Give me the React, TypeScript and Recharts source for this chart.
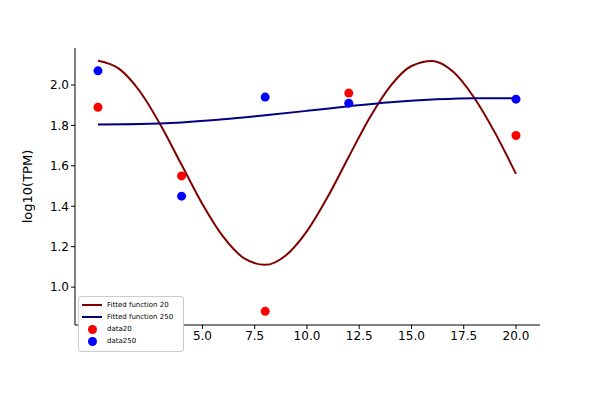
import React from "react";
import { ComposedChart, Line, Scatter, XAxis, YAxis } from "recharts";

const fitX20 = [0,1,2,3,4,5,6,7,8,9,10,11,12,13,14,15,16,17,18,19,20];
const fitY20 = [2.12,2.081,1.969,1.801,1.605,1.41,1.248,1.142,1.11,1.158,1.277,1.448,1.645,1.838,1.996,2.094,2.119,2.065,1.937,1.763,1.56];
const fitX250 = [0,2,4,6,8,10,12,14,16,18,20];
const fitY250 = [1.805,1.807,1.815,1.83,1.85,1.872,1.895,1.915,1.928,1.935,1.935];
const dataX = [0,4,8,12,20];
const data20 = [1.89,1.55,0.88,1.96,1.75];
const data250 = [2.07,1.45,1.94,1.91,1.93];
const xTicks = [0,2.5,5,7.5,10,12.5,15,17.5,20];
const yTicks = [1.0,1.2,1.4,1.6,1.8,2.0];

const f20 = fitX20.map((x, i) => ({ x, y: fitY20[i] }));
const f250 = fitX250.map((x, i) => ({ x, y: fitY250[i] }));
const d20 = dataX.map((x, i) => ({ x, y: data20[i] }));
const d250 = dataX.map((x, i) => ({ x, y: data250[i] }));

const dot = (color: string) => (p: any) => <circle cx={p.cx} cy={p.cy} r={4.5} fill={color} />;
const font = { fontFamily: "DejaVu Sans", fontSize: 12, fill: "#000" };

export default function App() {
  return (
    <div style={{ position: "absolute", left: 0, top: 0, width: 600, height: 400, background: "#fff" }}>
      <ComposedChart width={600} height={400} margin={{ top: 48, right: 60, bottom: 45, left: 25 }}>
        <XAxis type="number" dataKey="x" domain={[-1.1, 21.15]} ticks={xTicks} allowDataOverflow
          tickFormatter={(v: number) => v.toFixed(1)} stroke="#000" tick={font} tickSize={4} />
        <XAxis xAxisId="top" orientation="top" height={0} type="number" dataKey="x" domain={[-1.1, 21.15]} tick={false} tickLine={false} stroke="#000" />
        <YAxis type="number" dataKey="y" domain={[0.8125, 2.183]} ticks={yTicks} allowDataOverflow width={50}
          tickFormatter={(v: number) => v.toFixed(1)} stroke="#000" tick={font} tickSize={4}
          label={{ value: "log10(TPM)", angle: -90, position: "insideLeft", offset: 2, style: { ...font, fontSize: 13, textAnchor: "middle" } }} />
        <YAxis yAxisId="right" orientation="right" domain={[0.8125, 2.183]} tick={false} tickLine={false} stroke="#000" width={0} />
        <Line data={f20} dataKey="y" type="monotone" stroke="#800000" strokeWidth={2} dot={false} isAnimationActive={false} />
        <Line data={f250} dataKey="y" type="monotone" stroke="#000080" strokeWidth={2} dot={false} isAnimationActive={false} />
        <Scatter data={d20} dataKey="y" shape={dot("#ff0000")} isAnimationActive={false} />
        <Scatter data={d250} dataKey="y" shape={dot("#0000ff")} isAnimationActive={false} />
      </ComposedChart>
      <div style={{ position: "absolute", left: 78, top: 296, width: 106, height: 56, border: "1px solid #ccc", borderRadius: 3, background: "#fff", fontFamily: "DejaVu Sans", fontSize: 7, lineHeight: "12px", padding: "2px 3px", boxSizing: "border-box" }}>
        {[["line", "#800000", "Fitted function 20"], ["line", "#000080", "Fitted function 250"], ["dot", "#ff0000", "data20"], ["dot", "#0000ff", "data250"]].map(([k, c, t]) => (
          <div key={t} style={{ display: "flex", alignItems: "center", height: 12 }}>
            <div style={{ width: 20, display: "flex", justifyContent: "center", marginRight: 5 }}>
              {k === "line" ? <div style={{ width: 20, height: 2, background: c }} /> : <div style={{ width: 9, height: 9, borderRadius: 5, background: c }} />}
            </div>
            {t}
          </div>
        ))}
      </div>
    </div>
  );
}
